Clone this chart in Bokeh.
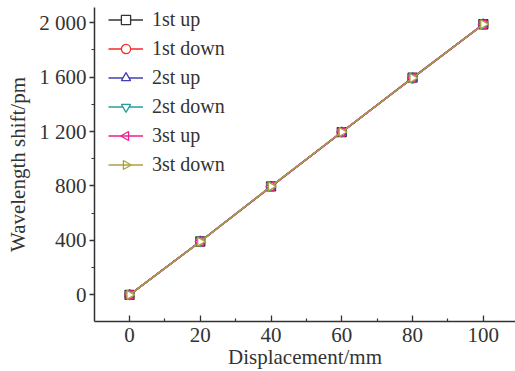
import math
from bokeh.plotting import figure
from bokeh.models import FixedTicker, Legend, LegendItem, Range1d
from bokeh.embed import file_html
from bokeh.resources import INLINE

displacement = [0, 20, 40, 60, 80, 100]
up1 = [0, 392, 797, 1196, 1596, 1989]
down1 = [0, 390, 795, 1198, 1592, 1987]
up2 = [0, 393, 796, 1195, 1594, 1990]
down2 = [0, 391, 798, 1197, 1593, 1988]
up3 = [0, 392, 796, 1196, 1595, 1988]
down3 = [0, 391, 797, 1197, 1594, 1989]

names = ["1st up", "1st down", "2st up", "2st down", "3st up", "3st down"]
series = [up1, down1, up2, down2, up3, down3]
colors = ["#333333", "#f52a2a", "#4040b0", "#2a9c9c", "#ec1e8c", "#a8a23e"]
markers = ["square", "circle", "triangle", "inverted_triangle", "triangle", "triangle"]
angles = [0, 0, 0, 0, math.pi / 2, -math.pi / 2]

y_ticks = [0, 400, 800, 1200, 1600, 2000]
y_labels = ["0", "400", "800", "1 200", "1 600", "2 000"]
x_ticks = [0, 20, 40, 60, 80, 100]

FONT = "Liberation Serif"
TXT = "#333333"

W, H = 515, 371
BL, BR, BT, BB = 94, 0, 7, 50
FW, FH = W - BL - BR, H - BT - BB

p = figure(width=W, height=H, output_backend="svg", toolbar_location=None,
           x_range=Range1d(-9.9, 109.1), y_range=Range1d(-196, 2112),
           min_border_left=BL, min_border_right=BR, min_border_top=BT, min_border_bottom=BB)
p.outline_line_color = None
p.grid.visible = False

# legend layout (screen px within frame)
LEG_X, GLYPH_W, ITEM_H, SPACING = 14, 35, 23, 6
LEG_TOP = 1
leg_h = 6 * ITEM_H + 5 * SPACING
LEG_Y = FH - LEG_TOP - leg_h

p.extra_x_ranges = {"lx": Range1d(0, FW)}
p.extra_y_ranges = {"ly": Range1d(0, FH)}

items = []
for i, (name, ys, c, m, a) in enumerate(zip(names, series, colors, markers, angles)):
    r1 = p.line(displacement, ys, line_color=c, line_width=1.5)
    r2 = p.scatter(displacement, ys, marker=m, angle=a, size=9, line_color=c,
                   fill_color="white", line_width=1.3)
    if a == 0:
        items.append(LegendItem(label=name, renderers=[r1, r2]))
    else:
        items.append(LegendItem(label=name, renderers=[r1]))
        cy = FH - LEG_TOP - (i * (ITEM_H + SPACING) + ITEM_H / 2)
        p.scatter([LEG_X + GLYPH_W / 2], [cy], marker=m, angle=a, size=9,
                  line_color=c, fill_color="white", line_width=1.3,
                  x_range_name="lx", y_range_name="ly")

legend = Legend(items=items, location=(LEG_X, LEG_Y), margin=0, padding=0,
                border_line_color=None, background_fill_alpha=0,
                label_text_font=FONT, label_text_font_size="20px", label_text_color=TXT,
                glyph_width=GLYPH_W, glyph_height=ITEM_H, label_height=ITEM_H,
                label_standoff=9, spacing=SPACING)
p.add_layout(legend)

xa = p.xaxis[0]
xa.ticker = FixedTicker(ticks=x_ticks, minor_ticks=[10, 30, 50, 70, 90])
xa.major_tick_in = 6
xa.major_tick_out = 0
xa.minor_tick_in = 3
xa.minor_tick_out = 0
xa.axis_label = "Displacement/mm"

ya = p.yaxis[0]
ya.ticker = FixedTicker(ticks=y_ticks, minor_ticks=[200, 600, 1000, 1400, 1800])
ya.major_label_overrides = {t: l for t, l in zip(y_ticks, y_labels)}
ya.major_tick_in = 0
ya.major_tick_out = 5
ya.minor_tick_in = 0
ya.minor_tick_out = 3
ya.axis_label = "Wavelength shift/pm"

for ax in (xa, ya):
    ax.axis_line_color = TXT
    ax.axis_line_width = 1.5
    ax.major_tick_line_color = TXT
    ax.minor_tick_line_color = TXT
    ax.major_tick_line_width = 1.3
    ax.minor_tick_line_width = 1.2
    ax.major_label_text_font = FONT
    ax.major_label_text_font_size = "21px"
    ax.major_label_text_color = TXT
    ax.axis_label_text_font = FONT
    ax.axis_label_text_font_size = "21px"
    ax.axis_label_text_font_style = "normal"
    ax.axis_label_text_color = TXT

xa.major_label_standoff = 6
xa.axis_label_standoff = 0
ya.major_label_standoff = 3
ya.axis_label_standoff = 6

open("out.html", "w").write(file_html(p, INLINE))
